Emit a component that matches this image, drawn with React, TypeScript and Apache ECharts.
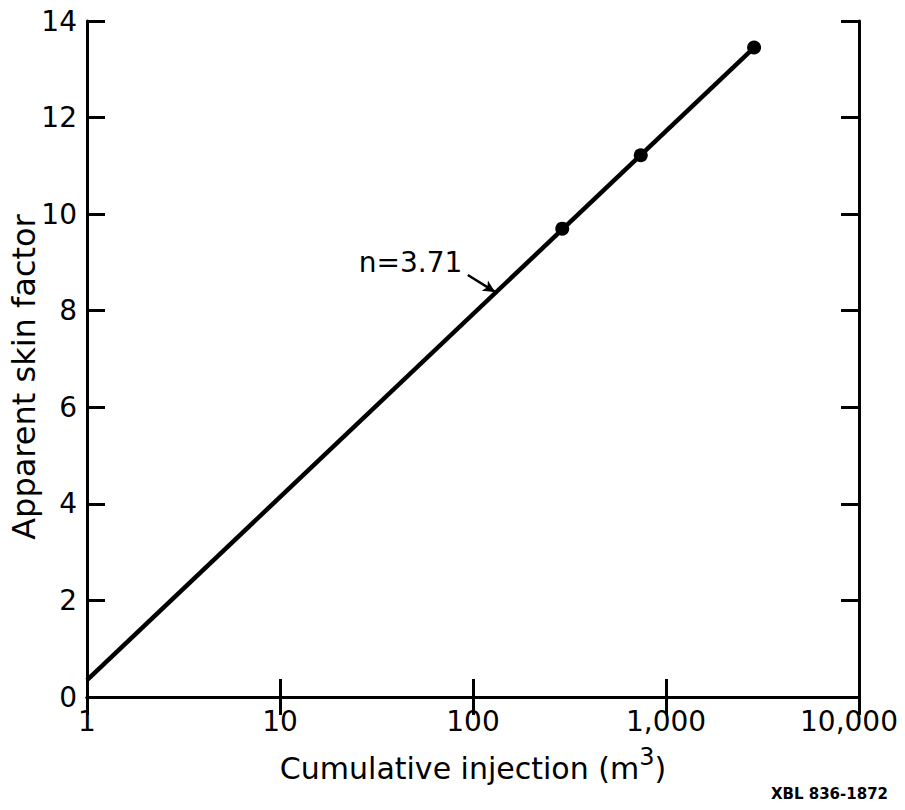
import React, { useEffect, useRef } from "react";
import * as echarts from "echarts";

// Measured points: cumulative injection (m³) vs apparent skin factor
const injectionM3 = [290, 740, 2860];
const skinFactor = [9.7, 11.22, 13.45];

// Fitted straight line on the semi-log plot (n = 3.71)
const fitInjection = [1, 2860];
const fitSkin = [0.35, 13.45];

// Annotation arrow, in data coordinates
const arrowFrom = [94, 8.74];
const arrowTo = [130, 8.39];
const noteAnchor = [88, 9.0];
const noteText = "n=3.71";

const yTicks = [0, 2, 4, 6, 8, 10, 12, 14];
const xTickLabels: Record<number, string> = {
  1: "1",
  10: "10",
  100: "100",
  1000: "1,000",
  10000: "{last|10,000}",
};

const FONT = "DejaVu Sans";

export default function App() {
  const ref = useRef<HTMLDivElement>(null);

  useEffect(() => {
    if (!ref.current) return;
    const chart = echarts.init(ref.current, null, { renderer: "svg" });

    const axisLine = { show: true, lineStyle: { color: "#000", width: 3 } };
    const tickIn = { show: true, inside: true, length: 18, lineStyle: { color: "#000", width: 3 } };

    chart.setOption({
      animation: false,
      backgroundColor: "#fff",
      grid: { left: 87, right: 46, top: 21, bottom: 113, containLabel: false },
      xAxis: [
        {
          type: "log",
          logBase: 10,
          min: 1,
          max: 10000,
          position: "bottom",
          axisLine,
          axisTick: tickIn,
          splitLine: { show: false },
          minorTick: { show: false },
          axisLabel: {
            margin: 10,
            fontFamily: FONT,
            fontSize: 28,
            color: "#000",
            formatter: (v: number) => xTickLabels[Math.round(v)] ?? "",
            rich: {
              last: { fontFamily: FONT, fontSize: 28, color: "#000", padding: [0, 20, 0, 0] },
            },
          },
          name: "{t|Cumulative injection (m}{s|3}{t|)}",
          nameLocation: "middle",
          nameGap: 48,
          nameTextStyle: {
            rich: {
              t: { fontFamily: FONT, fontSize: 30, color: "#000", verticalAlign: "bottom" },
              s: { fontFamily: FONT, fontSize: 24, color: "#000", verticalAlign: "top", padding: [0, 0, 14, 0] },
            },
          },
        },
        {
          type: "log",
          logBase: 10,
          min: 1,
          max: 10000,
          position: "top",
          axisLine,
          axisTick: tickIn,
          axisLabel: { show: false },
          splitLine: { show: false },
        },
      ],
      yAxis: [
        {
          type: "value",
          min: yTicks[0],
          max: yTicks[yTicks.length - 1],
          interval: 2,
          position: "left",
          axisLine,
          axisTick: tickIn,
          splitLine: { show: false },
          axisLabel: { margin: 10, fontFamily: FONT, fontSize: 28, color: "#000" },
        },
        {
          type: "value",
          min: yTicks[0],
          max: yTicks[yTicks.length - 1],
          interval: 2,
          position: "right",
          axisLine,
          axisTick: tickIn,
          axisLabel: { show: false },
          splitLine: { show: false },
        },
      ],
      graphic: [
        {
          type: "text",
          x: 24,
          y: 377,
          rotation: Math.PI / 2,
          style: {
            text: "Apparent skin factor",
            fontFamily: FONT,
            fontSize: 32,
            fill: "#000",
            align: "center",
            verticalAlign: "middle",
          },
        },
        {
          type: "text",
          right: 17,
          top: 786,
          style: {
            text: "XBL 836-1872",
            fontFamily: FONT,
            fontWeight: "bold",
            fontSize: 15,
            fill: "#000",
          },
        },
      ],
      series: [
        {
          type: "line",
          xAxisIndex: 0,
          yAxisIndex: 0,
          data: fitInjection.map((x, i) => [x, fitSkin[i]]),
          showSymbol: false,
          symbol: "none",
          lineStyle: { color: "#000", width: 4.5 },
          silent: true,
          markLine: {
            silent: true,
            symbol: ["none", "arrow"],
            symbolSize: [9, 12],
            lineStyle: { color: "#000", width: 2.5, type: "solid", curveness: 0.15 },
            label: { show: false },
            data: [[{ coord: arrowFrom }, { coord: arrowTo }]],
          },
          markPoint: {
            silent: true,
            data: [
              {
                coord: noteAnchor,
                symbol: "circle",
                symbolSize: 0,
                label: {
                  show: true,
                  formatter: noteText,
                  position: "left",
                  distance: 0,
                  fontFamily: FONT,
                  fontSize: 28,
                  color: "#000",
                },
              },
            ],
          },
        },
        {
          type: "scatter",
          xAxisIndex: 0,
          yAxisIndex: 0,
          data: injectionM3.map((x, i) => [x, skinFactor[i]]),
          symbol: "circle",
          symbolSize: 14,
          itemStyle: { color: "#000", opacity: 1 },
        },
      ],
    });

    return () => chart.dispose();
  }, []);

  return <div ref={ref} style={{ width: 905, height: 810, margin: -8 }} />;
}
